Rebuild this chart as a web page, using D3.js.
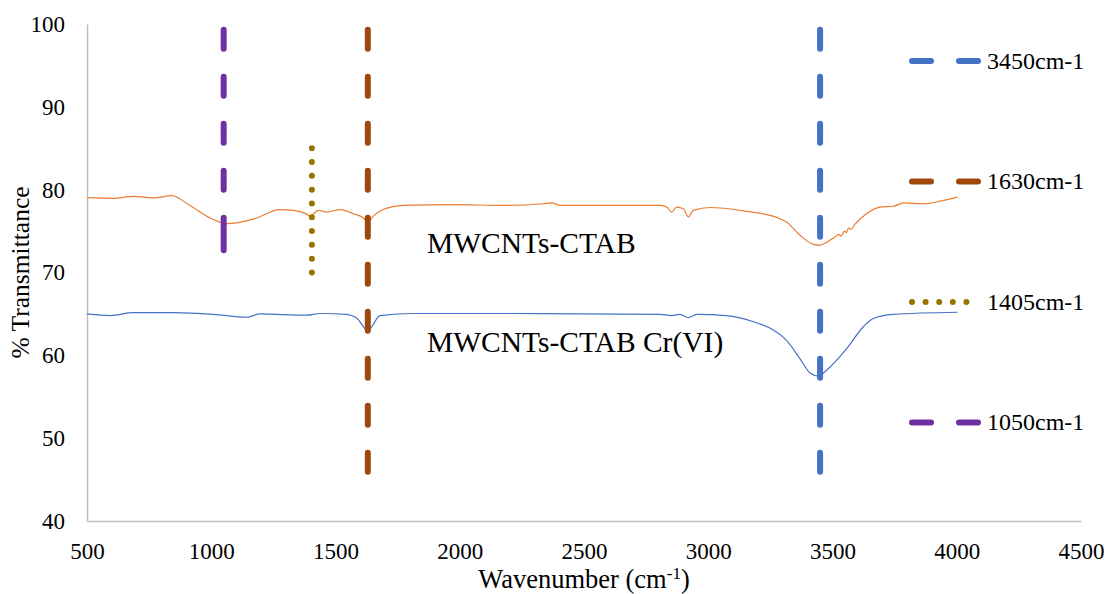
<!DOCTYPE html>
<html>
<head>
<meta charset="utf-8">
<script src="https://cdn.jsdelivr.net/npm/d3@7"></script>
<style>
  body { margin: 0; background: #fff; }
</style>
</head>
<body>
<div id="ftir"></div>
<script>
// spectra (wavenumber, % transmittance)
const ctabWavenumber = [500, 606, 686, 767, 841, 914, 1008, 1062, 1169, 1277, 1330, 1384, 1397, 1431, 1465, 1518, 1572, 1612, 1630, 1652, 1692, 1773, 1974, 2175, 2336, 2370, 2403, 2578, 2806, 2833, 2853, 2873, 2900, 2920, 2940, 3007, 3141, 3275, 3315, 3369, 3423, 3450, 3480, 3510, 3525, 3535, 3548, 3556, 3565, 3575, 3590, 3637, 3691, 3745, 3785, 3866, 3946, 4004]
const ctabT = [79.05, 78.95, 79.2, 79.0, 79.27, 78.1, 76.4, 75.9, 76.45, 77.6, 77.5, 77.05, 76.8, 77.5, 77.3, 77.6, 77.1, 76.6, 76.1, 76.8, 77.6, 78.1, 78.2, 78.1, 78.3, 78.4, 78.1, 78.1, 78.1, 77.9, 77.3, 77.9, 77.7, 76.7, 77.5, 77.85, 77.45, 76.65, 76.1, 74.5, 73.4, 73.3, 73.7, 74.3, 74.6, 74.4, 75.0, 74.8, 75.4, 75.2, 75.8, 77.1, 77.9, 78.0, 78.4, 78.3, 78.7, 79.1]

const crWavenumber = [500, 593, 686, 847, 1008, 1143, 1196, 1384, 1438, 1545, 1585, 1619, 1630, 1646, 1679, 1813, 2216, 2806, 2853, 2886, 2920, 2953, 3074, 3182, 3262, 3315, 3369, 3409, 3443, 3476, 3557, 3624, 3664, 3745, 4004]
const crT = [65.0, 64.8, 65.15, 65.15, 64.95, 64.6, 65.0, 64.85, 65.05, 64.95, 64.5, 63.2, 62.85, 63.45, 64.8, 65.05, 65.05, 64.95, 64.8, 64.95, 64.55, 64.95, 64.8, 64.05, 63.05, 61.8, 59.6, 57.9, 57.5, 58.2, 60.8, 63.45, 64.45, 64.95, 65.2]

// marker lines for the assigned bands
const bandLabels = ['3450cm-1', '1630cm-1', '1405cm-1', '1050cm-1']
const bandWavenumber = [3450, 1630, 1405, 1050]
const bandTop = [99.3, 99.3, 85, 99.3]
const bandBottom = [45.9, 45.9, 70, 72.7]
const bandColors = ['#4472C4', '#9E480E', '#997300', '#7030A0']
const bandDotted = [false, false, true, false]

const xTicks = [500, 1000, 1500, 2000, 2500, 3000, 3500, 4000, 4500]
const yTicks = [40, 50, 60, 70, 80, 90, 100]

const FONT = '"Liberation Serif", "Times New Roman", "DejaVu Serif", serif'
const margin = { top: 24, right: 28, bottom: 73, left: 87 }
const size = { width: 1109, height: 594 }

const svg = d3.select('#ftir').append('svg')
  .attr('width', size.width)
  .attr('height', size.height)
  .attr('font-family', FONT)

const xScale = d3.scaleLinear().domain([500, 4500]).range([margin.left, size.width - margin.right])
const yScale = d3.scaleLinear().domain([40, 100]).range([size.height - margin.bottom, margin.top])

// axes
const xAxis = d3.axisBottom(xScale).tickValues(xTicks).tickSize(0).tickPadding(22).tickFormat(d3.format('d'))
const xG = svg.append('g')
  .attr('transform', 'translate(0,' + (size.height - margin.bottom) + ')')
  .call(xAxis)
  .attr('font-family', FONT)
xG.selectAll('text').style('font-size', '23px').style('font-family', FONT).attr('fill', '#000')

const yAxis = d3.axisLeft(yScale).tickValues(yTicks).tickSize(0).tickPadding(22)
const yG = svg.append('g')
  .attr('transform', 'translate(' + margin.left + ',0)')
  .call(yAxis)
  .attr('font-family', FONT)
yG.selectAll('text').style('font-size', '23px').style('font-family', FONT).attr('fill', '#000')

svg.selectAll('.domain').attr('stroke', '#BFBFBF').attr('stroke-width', 1.5)

// axis titles
const xTitle = svg.append('text')
  .attr('x', (margin.left + size.width - margin.right) / 2)
  .attr('y', 588)
  .attr('text-anchor', 'middle')
  .style('font-family', FONT)
  .style('font-size', '26.5px')
xTitle.append('tspan').text('Wavenumber (cm')
xTitle.append('tspan').text('-1').attr('dy', -9).style('font-size', '17px')
xTitle.append('tspan').text(')').attr('dy', 9)

svg.append('text')
  .attr('transform', 'translate(29,' + ((margin.top + size.height - margin.bottom) / 2) + ') rotate(-90)')
  .attr('text-anchor', 'middle')
  .style('font-family', FONT)
  .style('font-size', '25.5px')
  .text('% Transmittance')

// spectra
const line = d3.line()
  .x(d => xScale(d[0]))
  .y(d => yScale(d[1]))
  .curve(d3.curveMonotoneX)

svg.append('path')
  .datum(d3.zip(ctabWavenumber, ctabT))
  .attr('d', line)
  .attr('fill', 'none')
  .attr('stroke', '#ED7D31')
  .attr('stroke-width', 1.2)

svg.append('path')
  .datum(d3.zip(crWavenumber, crT))
  .attr('d', line)
  .attr('fill', 'none')
  .attr('stroke', '#4472C4')
  .attr('stroke-width', 1.2)

// band marker lines (the 1050 one ends on a longer dash, like the original)
bandWavenumber.forEach((wn, i) => {
  let dash = bandDotted[i] ? '0 13.8' : '19 28'
  if (wn === 1050) dash = '19 28 19 28 19 28 19 28 33 40'
  svg.append('line')
    .attr('x1', xScale(wn)).attr('x2', xScale(wn))
    .attr('y1', yScale(bandTop[i])).attr('y2', yScale(bandBottom[i]))
    .attr('stroke', bandColors[i])
    .attr('stroke-width', 6)
    .attr('stroke-linecap', 'round')
    .attr('stroke-dasharray', dash)
})

// curve labels
svg.append('text')
  .attr('x', xScale(1868)).attr('y', yScale(72.3))
  .style('font-family', FONT)
  .style('font-size', '29.5px')
  .text('MWCNTs-CTAB')
svg.append('text')
  .attr('x', xScale(1868)).attr('y', yScale(60.4))
  .style('font-family', FONT)
  .style('font-size', '29.5px')
  .text('MWCNTs-CTAB Cr(VI)')

// legend
const legend = svg.append('g').attr('class', 'legend')
bandLabels.forEach((label, i) => {
  const y = 61 + i * 120.5
  legend.append('line')
    .attr('x1', 912).attr('x2', bandDotted[i] ? 967 : 979)
    .attr('y1', y).attr('y2', y)
    .attr('stroke', bandColors[i])
    .attr('stroke-width', 6)
    .attr('stroke-linecap', 'round')
    .attr('stroke-dasharray', bandDotted[i] ? '0 13.6' : '19 28')
  legend.append('text')
    .attr('x', 987).attr('y', y)
    .attr('dy', '0.33em')
    .style('font-family', FONT)
    .style('font-size', '24px')
    .text(label)
})
</script>
</body>
</html>
